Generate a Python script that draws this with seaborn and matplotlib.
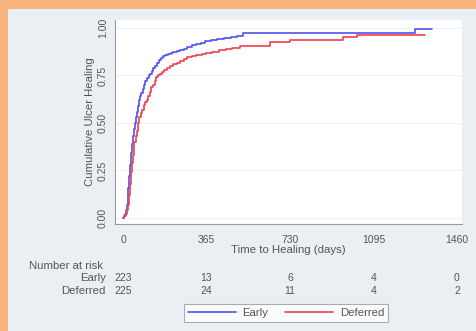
import matplotlib
matplotlib.use("Agg")
import matplotlib.pyplot as plt
import matplotlib.transforms as mtransforms
import pandas as pd
import seaborn as sns

# Cumulative healing (step curves) by treatment group
early_days = [0, 4, 8, 12, 16, 20, 24, 28, 32, 36, 40, 44, 48, 52, 56, 60, 65,
              70, 75, 80, 86, 92, 98, 105, 112, 118, 125, 132, 140, 148, 156,
              165, 175, 184, 195, 208, 220, 235, 250, 265, 280, 300, 320, 340,
              360, 385, 410, 440, 470, 500, 525, 1276, 1350]
early_cum = [0.00, 0.01, 0.02, 0.04, 0.07, 0.11, 0.16, 0.22, 0.28, 0.34, 0.39,
             0.43, 0.47, 0.50, 0.53, 0.56, 0.59, 0.62, 0.64, 0.66, 0.68, 0.70,
             0.72, 0.735, 0.75, 0.76, 0.775, 0.79, 0.80, 0.815, 0.83, 0.84,
             0.85, 0.86, 0.865, 0.87, 0.875, 0.88, 0.885, 0.89, 0.90, 0.91,
             0.915, 0.92, 0.93, 0.935, 0.94, 0.945, 0.955, 0.96, 0.971, 0.993,
             0.993]
deferred_days = [0, 6, 12, 18, 22, 26, 30, 34, 38, 42, 46, 50, 55, 60, 66, 72,
                 78, 84, 90, 96, 103, 110, 117, 124, 130, 138, 145, 152, 160,
                 170, 180, 192, 205, 220, 236, 250, 265, 280, 300, 320, 345,
                 365, 390, 420, 450, 476, 510, 643, 730, 962, 1023, 1320]
deferred_cum = [0.00, 0.01, 0.02, 0.04, 0.07, 0.12, 0.18, 0.24, 0.29, 0.33,
                0.37, 0.40, 0.43, 0.46, 0.50, 0.53, 0.55, 0.57, 0.595, 0.61,
                0.62, 0.64, 0.665, 0.69, 0.70, 0.72, 0.74, 0.75, 0.76, 0.77,
                0.78, 0.79, 0.80, 0.81, 0.815, 0.825, 0.835, 0.845, 0.85,
                0.86, 0.865, 0.87, 0.875, 0.885, 0.89, 0.895, 0.905, 0.926,
                0.937, 0.95, 0.963, 0.963]

groups = ["Early", "Deferred"]
x_ticks = [0, 365, 730, 1095, 1460]
y_ticks = [0.00, 0.25, 0.50, 0.75, 1.00]
at_risk_early = [223, 13, 6, 4, 0]
at_risk_deferred = [225, 24, 11, 4, 2]

df = pd.DataFrame({
    "day": early_days + deferred_days,
    "cum": early_cum + deferred_cum,
    "group": ["Early"] * len(early_days) + ["Deferred"] * len(deferred_days),
})

sns.set_theme(style="white")
plt.rcParams["font.family"] = ["Liberation Sans", "DejaVu Sans"]

BLUE = "#5050f0"
RED = "#f0404e"
PANEL = "#e9eff2"
ORANGE = "#f8b47c"
TXT = "#555555"
TICK_FS = 7.5
LABEL_FS = 8.2

fig = plt.figure(figsize=(4.77, 3.31), dpi=100)
fig.patch.set_facecolor(ORANGE)
fig.add_artist(plt.Rectangle((8 / 477, 0), 1, 1 - 9 / 331,
                             transform=fig.transFigure, facecolor=PANEL,
                             edgecolor="none", zorder=-1))

ax = fig.add_axes([115 / 477, 1 - 224 / 331, (462 - 115) / 477, (224 - 20) / 331])
ax.set_facecolor("white")

sns.lineplot(data=df, x="day", y="cum", hue="group", hue_order=groups,
             palette={"Early": BLUE, "Deferred": RED}, estimator=None,
             drawstyle="steps-post", linewidth=1.2, legend=False, ax=ax)

ax.set_xlim(-35, 1482)
ax.set_ylim(-0.032, 1.042)
ax.set_xticks(x_ticks)
ax.set_xticklabels([str(t) for t in x_ticks])
ax.set_yticks(y_ticks)
ax.set_yticklabels([f"{t:.2f}" for t in y_ticks], rotation=90, va="center")
ax.tick_params(axis="both", labelsize=TICK_FS, colors=TXT, length=3,
               width=0.6, direction="out")
ax.tick_params(axis="x", pad=5)
ax.tick_params(axis="y", pad=2)
ax.tick_params(axis="both", color="#999999")
for t in y_ticks:
    ax.axhline(t, color="#eef2f4", linewidth=0.8, zorder=0)

for side in ["top", "right"]:
    ax.spines[side].set_visible(False)
for side in ["left", "bottom"]:
    ax.spines[side].set_color("#9a9a9a")
    ax.spines[side].set_linewidth(0.8)

ax.set_xlabel("Time to Healing (days)", fontsize=LABEL_FS, color=TXT,
              labelpad=0)
ax.set_ylabel("Cumulative Ulcer Healing", fontsize=LABEL_FS, color=TXT,
              labelpad=2)

# Number-at-risk table below the axis
trans = mtransforms.blended_transform_factory(ax.transData, fig.transFigure)
fig.text(29 / 477, 1 - 266 / 331, "Number at risk", fontsize=LABEL_FS,
         color=TXT, ha="left", va="center")
for row_label, counts, ypix in [("Early", at_risk_early, 278),
                                ("Deferred", at_risk_deferred, 291)]:
    yf = 1 - ypix / 331
    fig.text(106 / 477, yf, row_label, fontsize=LABEL_FS, color=TXT,
             ha="right", va="center")
    for xt, n in zip(x_ticks, counts):
        ax.text(xt, yf, str(n), transform=trans, fontsize=TICK_FS, color=TXT,
                ha="center", va="center", clip_on=False)

handles = [plt.Line2D([], [], color=BLUE, linewidth=1.2),
           plt.Line2D([], [], color=RED, linewidth=1.2)]
leg = fig.legend(handles, groups, loc="center",
                 bbox_to_anchor=(286 / 477, 1 - 313 / 331), ncol=2,
                 fontsize=LABEL_FS, handlelength=4.2, columnspacing=1.5,
                 handletextpad=0.6, borderpad=0.35, frameon=True,
                 fancybox=False)
leg.get_frame().set_edgecolor("#999999")
leg.get_frame().set_linewidth(0.8)
leg.get_frame().set_facecolor("white")
for txt in leg.get_texts():
    txt.set_color(TXT)

fig.savefig("out.png", dpi=100, facecolor=fig.get_facecolor())
